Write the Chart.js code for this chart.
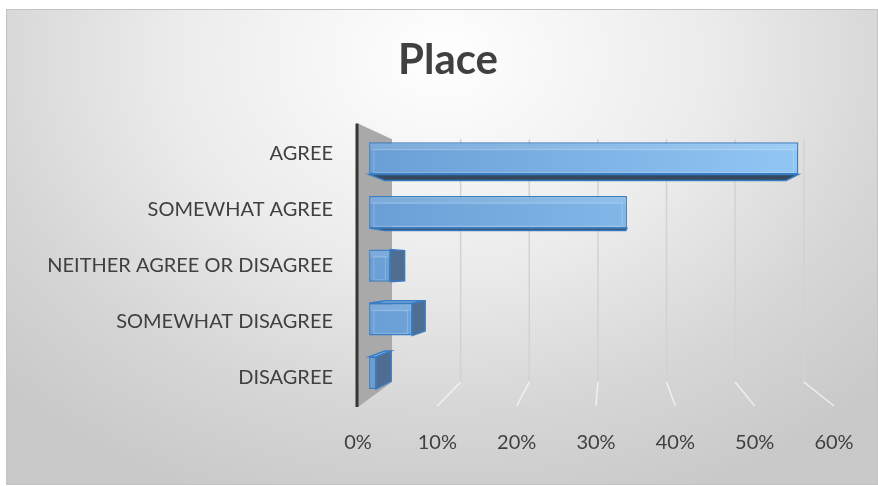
<!DOCTYPE html>
<html>
<head>
<meta charset="utf-8">
<script src="https://cdn.jsdelivr.net/npm/chart.js@4.4.1/dist/chart.umd.min.js"></script>
<style>
  html, body { margin: 0; padding: 0; background: #fff; }
  .frame {
    position: absolute; left: 6px; top: 9px; width: 870px; height: 474px;
    border: 1px solid #c4c4c4;
    background: radial-gradient(ellipse 70% 100% at 50% 10%, #ffffff 0%, #ebebeb 45%, #d6d6d6 75%, #c9c9c9 100%);
  }
  canvas { position: absolute; left: 0; top: 0; }
</style>
</head>
<body>
<div class="frame"></div>
<canvas id="chart" width="878" height="486"></canvas>
<script>
const categories = ['AGREE', 'SOMEWHAT AGREE', 'NEITHER AGREE OR DISAGREE', 'SOMEWHAT DISAGREE', 'DISAGREE'];
const shares = [0.566, 0.340, 0.028, 0.057, 0.009];
const tickValues = [0, 0.1, 0.2, 0.3, 0.4, 0.5, 0.6];

const textColor = '#404040';
const fontFamily = 'Lato, "Open Sans", sans-serif';

// fake perspective: everything shrinks toward a vanishing point
const depth = { wall: 0.865, barFront: 0.956, barBack: 0.935 };
const vanish = (chart, lift) => ({
  x: chart.scales.x.getPixelForValue(0.3) + 14,
  y: (chart.chartArea.top + chart.chartArea.bottom) / 2 - lift
});
const toward = (v, p, k) => v + (p - v) * k;

// title sits over the frame centre rather than the full layout width
const titleShift = {
  id: 'titleShift',
  afterLayout(chart) {
    if (chart.titleBlock) chart.titleBlock.left = 62;
  }
};

const box3d = {
  id: 'box3d',
  beforeDatasetsDraw(chart) {
    const { ctx, chartArea: area, scales: { x } } = chart;
    const W = vanish(chart, 38);
    const kw = depth.wall;
    const backTop = toward(W.y, area.top, kw);
    const backBottom = toward(W.y, area.bottom, kw);

    ctx.save();
    // grey side wall on the left
    const wx = toward(W.x, area.left, kw);
    ctx.fillStyle = '#a9a9a9';
    ctx.beginPath();
    ctx.moveTo(area.left, area.top - 2);
    ctx.lineTo(wx, backTop);
    ctx.lineTo(wx, backBottom);
    ctx.lineTo(area.left, area.bottom + 1);
    ctx.closePath();
    ctx.fill();

    // back wall gridlines and their floor continuation
    tickValues.slice(1).forEach(v => {
      const fx = x.getPixelForValue(v);
      const bx = toward(W.x, fx, kw);
      ctx.strokeStyle = '#d2d2d2';
      ctx.lineWidth = 1.5;
      ctx.beginPath();
      ctx.moveTo(bx, backTop);
      ctx.lineTo(bx, backBottom);
      ctx.stroke();
      ctx.strokeStyle = 'rgba(255,255,255,0.65)';
      ctx.beginPath();
      ctx.moveTo(bx, backBottom);
      ctx.lineTo(fx, area.bottom);
      ctx.stroke();
    });

    // dark axis edge
    ctx.strokeStyle = '#353535';
    ctx.lineWidth = 3;
    ctx.beginPath();
    ctx.moveTo(area.left - 1, area.top - 2);
    ctx.lineTo(area.left - 1, area.bottom + 1);
    ctx.stroke();
    ctx.restore();

    // bars are drawn in a plane a little behind the axis labels
    const V = vanish(chart, 0);
    ctx.save();
    ctx.translate(V.x, V.y);
    ctx.scale(depth.barFront, depth.barFront);
    ctx.translate(-V.x, -V.y);

    const k = depth.barBack;
    chart.getDatasetMeta(0).data.forEach(bar => {
      const p = bar.getProps(['x', 'y', 'base', 'height'], true);
      const x0 = Math.min(p.base, p.x), x1 = Math.max(p.base, p.x);
      const y0 = p.y - p.height / 2, y1 = p.y + p.height / 2;
      const bx0 = toward(V.x, x0, k), bx1 = toward(V.x, x1, k);
      const by0 = toward(V.y, y0, k), by1 = toward(V.y, y1, k);
      const face = (pts, fill) => {
        ctx.beginPath();
        pts.forEach(([px, py], i) => i ? ctx.lineTo(px, py) : ctx.moveTo(px, py));
        ctx.closePath();
        ctx.fillStyle = fill;
        ctx.fill();
        ctx.strokeStyle = '#3a7cc2';
        ctx.lineWidth = 1.5;
        ctx.stroke();
      };
      if (y1 < V.y) face([[x0, y1], [x1, y1], [bx1, by1], [bx0, by1]], '#34495f');
      if (y0 > V.y) face([[x0, y0], [x1, y0], [bx1, by0], [bx0, by0]], '#86b9e8');
      if (x1 < V.x) face([[x1, y0], [x1, y1], [bx1, by1], [bx1, by0]], '#4f6d90');
    });
  },
  afterDatasetsDraw(chart) {
    const { ctx } = chart;
    // soft bevel on the front faces
    chart.getDatasetMeta(0).data.forEach(bar => {
      const p = bar.getProps(['x', 'y', 'base', 'height'], true);
      const x0 = Math.min(p.base, p.x), x1 = Math.max(p.base, p.x);
      const y0 = p.y - p.height / 2, h = p.height;
      const inset = Math.min(5, (x1 - x0) / 4);
      if (x1 - x0 < 12) return;
      ctx.fillStyle = 'rgba(255,255,255,0.12)';
      ctx.fillRect(x0 + 1, y0 + 1, x1 - x0 - 2, h * 0.22);
      ctx.strokeStyle = 'rgba(255,255,255,0.22)';
      ctx.lineWidth = 1;
      ctx.strokeRect(x0 + inset, y0 + h * 0.22, x1 - x0 - inset * 2, h * 0.78 - 2);
    });
    ctx.restore();
  }
};

new Chart(document.getElementById('chart'), {
  type: 'bar',
  data: {
    labels: categories,
    datasets: [{
      data: shares,
      backgroundColor: ctx => {
        const { chart } = ctx;
        if (!chart.chartArea) return '#74aae0';
        const g = chart.ctx.createLinearGradient(chart.chartArea.left, 0, chart.chartArea.right, 0);
        g.addColorStop(0, '#6a9fd6');
        g.addColorStop(1, '#93c8f6');
        return g;
      },
      borderColor: '#3a7cc2',
      borderWidth: 1.5,
      borderSkipped: false,
      categoryPercentage: 1,
      barPercentage: 0.6
    }]
  },
  options: {
    indexAxis: 'y',
    responsive: false,
    animation: false,
    events: [],
    layout: { padding: { left: 0, right: 44, top: 0, bottom: 0 } },
    plugins: {
      legend: { display: false },
      tooltip: { enabled: false },
      title: {
        display: true,
        text: 'Place',
        color: textColor,
        font: { family: fontFamily, size: 42, weight: 'bold', lineHeight: 1.2 },
        padding: { top: 35, bottom: 40 }
      }
    },
    scales: {
      x: {
        min: 0,
        max: 0.6,
        grid: { display: false },
        border: { display: false },
        afterBuildTicks: scale => { scale.ticks = tickValues.map(v => ({ value: v })); },
        afterFit: scale => { scale.height = 80; },
        ticks: {
          padding: 17,
          color: textColor,
          font: { family: fontFamily, size: 20 },
          callback: v => Math.round(v * 100) + '%'
        }
      },
      y: {
        grid: { display: false },
        border: { display: false },
        afterFit: scale => { scale.width = 358; },
        ticks: {
          padding: 17,
          color: textColor,
          font: { family: fontFamily, size: 20 }
        }
      }
    }
  },
  plugins: [titleShift, box3d]
});
</script>
</body>
</html>
